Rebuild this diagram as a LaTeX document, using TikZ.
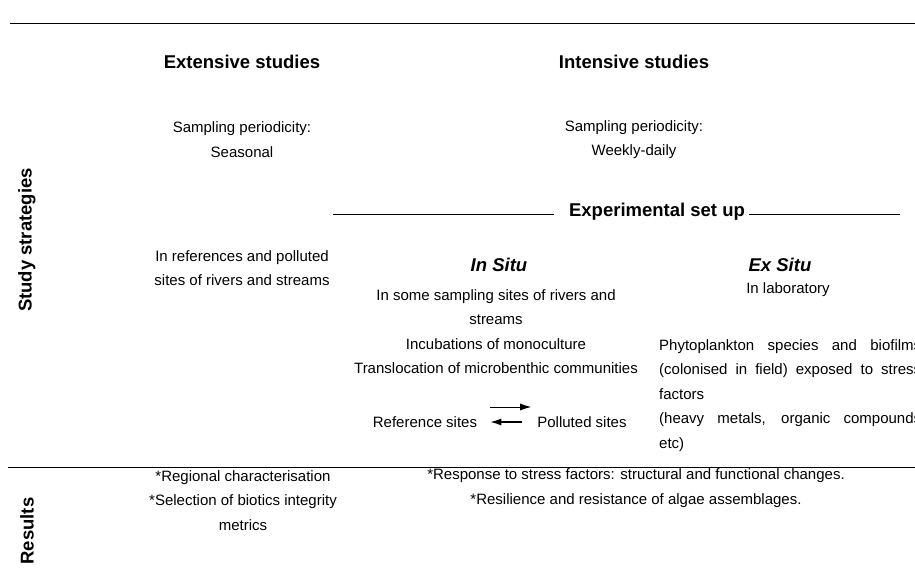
\documentclass[tikz,border=0pt]{standalone}
\usepackage{fontspec}
\setmainfont{Liberation Sans}
\usetikzlibrary{arrows.meta}

\newcommand\fullline[1]{\makebox[262pt][s]{#1}}

\begin{document}
\begin{tikzpicture}[x=1pt, y=-1pt, >={Latex[length=11pt,width=7pt]},
  head/.style={font=\fontsize{18.5}{22}\selectfont\bfseries, inner sep=0pt},
  headit/.style={font=\fontsize{18.5}{22}\selectfont\bfseries\itshape, inner sep=0pt},
  body/.style={font=\fontsize{15}{24.5}\selectfont, align=center, inner sep=0pt},
  rule/.style={line width=0.9pt}]

\useasboundingbox (0,0) rectangle (915,579);
\clip (0,0) rectangle (915,579);

\draw [rule] (10,23) -- (915,23);
\draw [rule] (8,467) -- (915,467);

\foreach \l/\y [count=\i] in {Study strategies/240, Results/531}
  \node [head, rotate=90] (side-\i) at (27,\y) {\l};

\foreach \l/\x/\p [count=\i] in {Extensive studies/242/Seasonal, Intensive studies/634/Weekly-daily} {
  \node [head] (study-\i) at (\x,62) {\l};
  \node [body] (period-\i) at (\x,139.5) {Sampling periodicity:\\\p};
}

\node [head] (setup) at (657,212) {Experimental set up};
\coordinate (setup-l) at (333,0);
\coordinate (setup-r) at (902,0);
\draw [line width=0.7pt] (setup-l |- setup.base) ++(0,-2) -- ([shift={(-15pt,2pt)}]setup.base west);
\draw [line width=0.7pt] ([shift={(4pt,2pt)}]setup.base east) -- ++(151,0);

\node [body] (sites) at (242,268) {In references and polluted\\sites of rivers and streams};

\node [headit] (insitu) at (499,265) {In Situ};
\node [body] (insitu-text) at (496,331.5)
  {In some sampling sites of rivers and\\streams\\Incubations of monoculture\\Translocation of microbenthic communities};

\node [headit] (exsitu) at (780,265) {Ex Situ};
\node [body] (lab) at (788,290) {In laboratory};
\node [body, align=left, anchor=north west] (exsitu-text) at (659,339)
  {\fullline{Phytoplankton species and biofilms}\\
   \fullline{(colonised in field) exposed to stress}\\
   factors\\
   \fullline{(heavy metals, organic compounds}\\
   etc)};

\node [body] (ref) at (425,422) {Reference sites};
\node [body] (pol) at (582,422) {Polluted sites};
\draw [->, line width=0.8pt] ([shift={(13pt,15pt)}]ref.east) -- ([shift={(-6pt,15pt)}]pol.west);
\draw [->, line width=1.2pt] ([xshift=-15pt]pol.west) -- ([xshift=13pt]ref.east);

\node [body] (res-ext) at (243,500.5)
  {*Regional characterisation\\*Selection of biotics integrity\\metrics};
\node [body] (res-int) at (636,488)
  {*Response to stress factors: structural and functional changes.\\*Resilience and resistance of algae assemblages.};

\end{tikzpicture}
\end{document}
